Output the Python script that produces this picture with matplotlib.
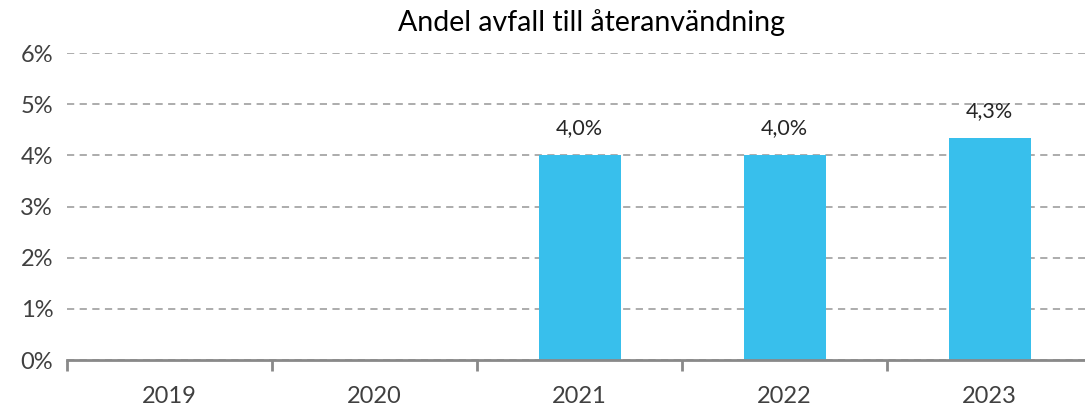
import numpy as np
import matplotlib.pyplot as plt
from matplotlib.ticker import FixedLocator, PercentFormatter

years = ['2019', '2020', '2021', '2022', '2023']
andel = [np.nan, np.nan, 4.0, 4.0, 4.34]
etiketter = ['', '', '4,0%', '4,0%', '4,3%']

plt.rcParams['font.family'] = ['Lato', 'DejaVu Sans']

fig = plt.figure(figsize=(10.85, 4.08), dpi=100)
ax = fig.add_axes([0.0618, 0.1176, 0.9447, 0.7524])

x = np.arange(len(years))
bars = ax.bar(x, andel, width=0.4, color='#38BFEC', zorder=3)
for xi, v, t in zip(x, andel, etiketter):
    if t:
        ax.text(xi, v + 0.33, t, ha='center', va='bottom', fontsize=15.5, color='#262626')

ax.set_xlim(-0.5, len(years) - 0.5)
ax.set_ylim(0, 6)
ax.set_yticks(range(0, 7))
ax.yaxis.set_major_formatter(PercentFormatter(decimals=0))
ax.grid(axis='y', color='#A6A6A6', linestyle=(0, (4, 3)), linewidth=1.3, zorder=0)

ax.set_xticks(x)
ax.set_xticklabels(years)
ax.xaxis.set_minor_locator(FixedLocator(np.arange(-0.5, len(years), 1.0)))
ax.tick_params(axis='x', which='major', length=0, pad=19, labelsize=17, labelcolor='#404040')
ax.tick_params(axis='x', which='minor', length=8, width=2, color='#898989', direction='out')
ax.tick_params(axis='y', length=0, pad=10, labelsize=17, labelcolor='#404040')

for s in ['top', 'right', 'left']:
    ax.spines[s].set_visible(False)
ax.spines['bottom'].set_color('#898989')
ax.spines['bottom'].set_linewidth(2)
ax.spines['bottom'].set_zorder(4)

fig.text(0.545, 0.945, 'Andel avfall till återanvändning', ha='center', va='center',
         fontsize=20.5, color='black')

fig.savefig('out.png', dpi=100)
